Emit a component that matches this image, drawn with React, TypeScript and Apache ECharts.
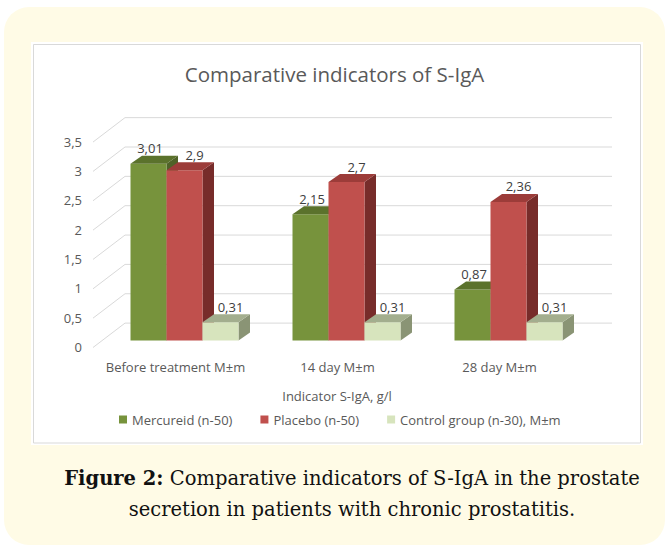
import React, { useEffect, useRef } from "react";
import * as echarts from "echarts";

const categories = ["Before treatment M±m", "14 day M±m", "28 day M±m"];
const seriesNames = ["Mercureid (n-50)", "Placebo (n-50)", "Control group (n-30), M±m"];
const mercureid = [3.01, 2.15, 0.87];
const placebo = [2.9, 2.7, 2.36];
const control = [0.31, 0.31, 0.31];
const yTicks = [0, 0.5, 1, 1.5, 2, 2.5, 3, 3.5];
const yMin = 0;
const yMax = 3.5;
const yStep = 0.5;

const palettes = [
  { front: "#77933c", top: "#5b722c", side: "#4f6228" },
  { front: "#c0504d", top: "#9c3c39", side: "#772c2a" },
  { front: "#d7e4bd", top: "#a3ae8e", side: "#8a9475" },
];
const labelDx = [1.5, 10, 10];
const FONT = "'Open Sans', 'Noto Sans', sans-serif";
const GRAY = "#595959";

function fmt(v: number) {
  return String(v).replace(".", ",");
}

function makeBarRender(k: number) {
  return (params: any, api: any) => {
    const catIdx = api.value(0);
    const v = api.value(1);
    const base = api.coord([catIdx, 0]);
    const topPt = api.coord([catIdx, v]);
    const band = api.size([1, 0])[0];
    const w = (band * 2) / 9;
    const x0 = base[0] - 1.5 * w + k * w;
    const yb = base[1];
    const yt = topPt[1];
    const dx = 11.5;
    const dy = 8;
    const pal = palettes[k];
    return {
      type: "group",
      children: [
        {
          type: "polygon",
          shape: { points: [[x0 + w, yt], [x0 + w + dx, yt - dy], [x0 + w + dx, yb - dy], [x0 + w, yb]] },
          style: { fill: pal.side },
        },
        {
          type: "rect",
          shape: { x: x0, y: yt, width: w, height: yb - yt },
          style: { fill: pal.front },
        },
        {
          type: "polygon",
          shape: { points: [[x0, yt], [x0 + w, yt], [x0 + w + dx, yt - dy], [x0 + dx, yt - dy]] },
          style: { fill: pal.top },
        },
        {
          type: "text",
          x: x0 + w / 2 + labelDx[k],
          y: yt - 15.5,
          style: {
            text: fmt(v),
            fill: "#404040",
            fontSize: 13,
            fontFamily: FONT,
            align: "center",
            verticalAlign: "middle",
          },
        },
      ],
    };
  };
}

export default function App() {
  const ref = useRef<HTMLDivElement>(null);
  useEffect(() => {
    if (!ref.current) return;
    const chart = echarts.init(ref.current, undefined, { renderer: "svg" });
    const allValues = [mercureid, placebo, control];
    const option: any = {
      animation: false,
      textStyle: { fontFamily: FONT },
      title: {
        text: "Comparative indicators of S-IgA",
        left: "center",
        top: 63,
        padding: 0,
        textStyle: { fontSize: 20.5, fontWeight: "normal", color: GRAY, fontFamily: FONT },
      },
      graphic: [
        {
          type: "rect",
          z: -10,
          shape: { x: 4, y: 7, width: 661, height: 538, r: 25 },
          style: { fill: "#fffbe6" },
        },
        {
          type: "rect",
          z: -9,
          shape: { x: 31, y: 42, width: 612, height: 403 },
          style: { fill: "#ffffff" },
        },
        {
          type: "rect",
          z: -8,
          shape: { x: 33.5, y: 44.5, width: 607, height: 398.5 },
          style: { fill: "#ffffff", stroke: "#d9d9d9", lineWidth: 1 },
        },
        {
          type: "text",
          z: -7,
          x: 352,
          y: 494,
          style: {
            text: "{b|Figure 2:} Comparative indicators of S-IgA in the prostate\nsecretion in patients with chronic prostatitis.",
            align: "center",
            verticalAlign: "middle",
            fontFamily: "'DejaVu Serif', serif",
            fontSize: 19.5,
            lineHeight: 31,
            fill: "#111111",
            rich: {
              b: {
                fontWeight: "bold",
                fontFamily: "'DejaVu Serif', serif",
                fontSize: 19.5,
                lineHeight: 31,
                fill: "#111111",
              },
            },
          },
        },
      ],
      legend: {
        data: seriesNames,
        left: 119,
        top: 413,
        padding: 0,
        itemWidth: 8,
        itemHeight: 8,
        itemGap: 28,
        icon: "rect",
        textStyle: { fontSize: 13, color: GRAY, fontFamily: FONT },
      },
      grid: { left: 103.5, right: 79.5, top: 135.05, bottom: 206.5 },
      xAxis: {
        type: "category",
        data: categories,
        axisLine: { show: false },
        axisTick: { show: false },
        axisLabel: { interval: 0, margin: 19.5, padding: [0, 18, 0, 0], color: GRAY, fontSize: 13, fontFamily: FONT },
        name: "Indicator S-IgA, g/l",
        nameLocation: "middle",
        nameGap: 49,
        nameTextStyle: { color: GRAY, fontSize: 13, fontFamily: FONT, padding: [0, 19, 0, 0] },
      },
      yAxis: {
        type: "value",
        min: yMin,
        max: yMax,
        interval: yStep,
        axisLine: { show: false },
        axisTick: { show: false },
        splitLine: { show: false },
        axisLabel: {
          formatter: (v: number) => fmt(v),
          color: GRAY,
          fontSize: 13,
          fontFamily: FONT,
          margin: 21.5,
          verticalAlign: "top",
          lineHeight: 13,
        },
      },
      series: [
        {
          type: "custom",
          silent: true,
          z: 1,
          data: yTicks.map((v) => [0, v]),
          encode: { x: 0, y: 1 },
          renderItem: (params: any, api: any) => {
            const cs = params.coordSys;
            const y = api.coord([0, api.value(1)])[1];
            return {
              type: "polyline",
              shape: {
                points: [
                  [cs.x - 10.5, y + 7],
                  [cs.x + 21.5, y - 17.4],
                  [cs.x + cs.width + 22.5, y - 17.4],
                ],
              },
              style: { stroke: "#d9d9d9", lineWidth: 1, fill: null },
            };
          },
        },
        ...seriesNames.map((name, k) => ({
          type: "custom",
          name,
          z: 3 + k,
          itemStyle: { color: palettes[k].front },
          data: allValues[k].map((v, i) => [i, v]),
          encode: { x: 0, y: 1 },
          renderItem: makeBarRender(k),
        })),
      ],
    };
    chart.setOption(option);
    return () => chart.dispose();
  }, []);
  return (
    <div
      ref={ref}
      style={{ position: "absolute", left: 0, top: 0, width: 669, height: 547 }}
    />
  );
}
